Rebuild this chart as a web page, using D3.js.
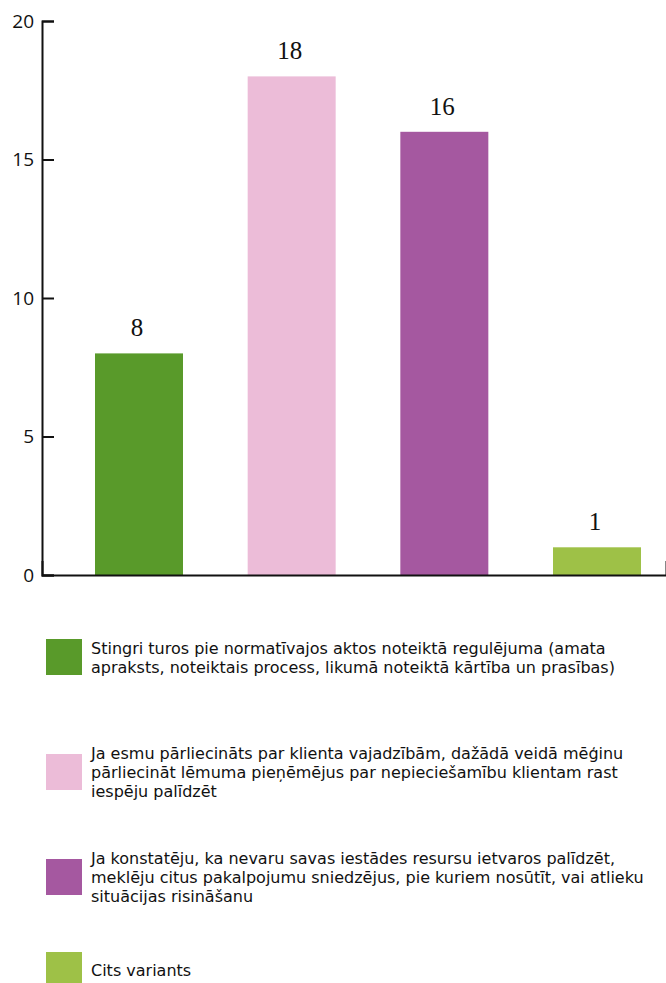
<!DOCTYPE html>
<html>
<head>
<meta charset="utf-8">
<script src="https://cdn.jsdelivr.net/npm/d3@7"></script>
<style>
  html, body { margin: 0; padding: 0; background: #fff; }
  svg { display: block; }
</style>
</head>
<body>
<svg id="chart" width="666" height="983"></svg>
<script>
const categories = [
  "Stingri turos pie normatīvajos aktos noteiktā regulējuma (amata apraksts, noteiktais process, likumā noteiktā kārtība un prasības)",
  "Ja esmu pārliecināts par klienta vajadzībām, dažādā veidā mēģinu pārliecināt lēmuma pieņēmējus par nepieciešamību klientam rast iespēju palīdzēt",
  "Ja konstatēju, ka nevaru savas iestādes resursu ietvaros palīdzēt, meklēju citus pakalpojumu sniedzējus, pie kuriem nosūtīt, vai atlieku situācijas risināšanu",
  "Cits variants"
];
const legendLines = [
  ["Stingri turos pie normatīvajos aktos noteiktā regulējuma (amata", "apraksts, noteiktais process, likumā noteiktā kārtība un prasības)"],
  ["Ja esmu pārliecināts par klienta vajadzībām, dažādā veidā mēģinu", "pārliecināt lēmuma pieņēmējus par nepieciešamību klientam rast", "iespēju palīdzēt"],
  ["Ja konstatēju, ka nevaru savas iestādes resursu ietvaros palīdzēt,", "meklēju citus pakalpojumu sniedzējus, pie kuriem nosūtīt, vai atlieku", "situācijas risināšanu"],
  ["Cits variants"]
];
const values = [8, 18, 16, 1];
const colors = ["#599A2A", "#ECBCD8", "#A558A0", "#9EC147"];
const yTicks = [0, 5, 10, 15, 20];

const svg = d3.select("#chart");

const y = d3.scaleLinear().domain([0, 20]).range([575, 21]);
const x = d3.scaleBand().domain(d3.range(categories.length))
  .range([62.67, 673.33]).paddingInner(0.4236).paddingOuter(0.2118);

// bars
svg.append("g").selectAll("rect").data(values).join("rect")
  .attr("x", (d, i) => x(i))
  .attr("y", d => y(d))
  .attr("width", x.bandwidth())
  .attr("height", d => y(0) - y(d))
  .attr("fill", (d, i) => colors[i]);

// value labels
svg.append("g").selectAll("text").data(values).join("text")
  .attr("x", (d, i) => x(i) + x.bandwidth() / 2 - 2)
  .attr("y", d => y(d) - 17)
  .attr("text-anchor", "middle")
  .attr("font-family", "'Liberation Serif', 'Times New Roman', serif")
  .attr("font-size", 25)
  .attr("fill", "#111")
  .text(d => d);

// x axis
const xAxisScale = d3.scaleLinear().range([42, 666]);
svg.append("g")
  .attr("transform", `translate(0,${y(0)})`)
  .call(d3.axisBottom(xAxisScale).tickValues([]).tickSizeOuter(-14))
  .call(g => g.select(".domain").attr("stroke", "#111").attr("stroke-width", 2));

// y axis
svg.append("g")
  .attr("transform", "translate(42,0)")
  .call(d3.axisLeft(y).tickValues(yTicks).tickSize(-12).tickSizeOuter(-12).tickPadding(8))
  .call(g => g.select(".domain").attr("stroke", "#111").attr("stroke-width", 2))
  .call(g => g.selectAll(".tick line").attr("stroke", "#111").attr("stroke-width", 2))
  .call(g => g.selectAll(".tick text")
    .attr("font-family", "'Open Sans', 'Liberation Sans', sans-serif")
    .attr("font-size", 19)
    .attr("fill", "#111"));

// legend
const legendCenters = [657, 772, 877, 970];
const lineH = 19;
const lg = svg.append("g").selectAll("g").data(categories).join("g")
  .attr("transform", (d, i) => `translate(46,${legendCenters[i]})`);
lg.append("rect")
  .attr("x", 0).attr("y", -18).attr("width", 36).attr("height", 36)
  .attr("fill", (d, i) => colors[i]);
lg.each(function(d, i) {
  const lines = legendLines[i];
  const t = d3.select(this).append("text")
    .attr("font-family", "'DejaVu Sans', Verdana, sans-serif")
    .attr("font-size", 16)
    .attr("fill", "#111");
  const startY = -((lines.length - 1) * lineH) / 2 + 6;
  lines.forEach((ln, j) => {
    t.append("tspan").attr("x", 45).attr("y", startY + j * lineH).text(ln);
  });
});
</script>
</body>
</html>
